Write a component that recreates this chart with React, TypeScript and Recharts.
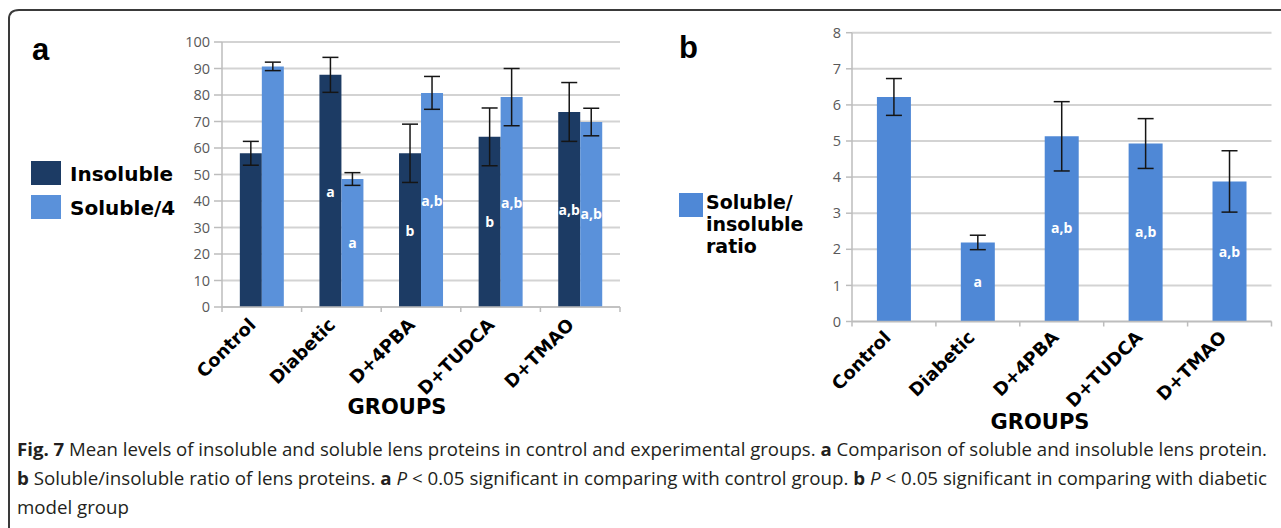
import { Bar, BarChart, CartesianGrid, ErrorBar, LabelList, XAxis, YAxis } from 'recharts';

const groups = ['Control', 'Diabetic', 'D+4PBA', 'D+TUDCA', 'D+TMAO'];

// panel a
const insoluble = [58, 87.6, 58, 64.2, 73.6];
const insolubleErr = [4.5, 6.6, 11, 10.9, 11.1];
const insolubleSig = ['', 'a', 'b', 'b', 'a,b'];
const insolubleSigAt = [0, 43, 28.3, 31.7, 36.2];
const soluble4 = [90.8, 48.3, 80.8, 79.2, 69.8];
const soluble4Err = [1.6, 2.4, 6.2, 10.8, 5.2];
const solubleSig = ['', 'a', 'a,b', 'a,b', 'a,b'];
const solubleSigAt = [0, 23.6, 39.6, 38.7, 34.6];
const ticksA = [0, 10, 20, 30, 40, 50, 60, 70, 80, 90, 100];

// panel b
const ratio = [6.22, 2.19, 5.13, 4.93, 3.88];
const ratioErr = [0.51, 0.2, 0.96, 0.69, 0.85];
const ratioSig = ['', 'a', 'a,b', 'a,b', 'a,b'];
const ratioSigAt = [0, 1.06, 2.55, 2.45, 1.9];
const ticksB = [0, 1, 2, 3, 4, 5, 6, 7, 8];

const DARK = '#1c3b64';
const LIGHT = '#5a91da';
const RATIO = '#4f88d6';
const GRID = '#d3d3d3';
const AXIS = '#bdbdbd';
const HEAVY = '"DejaVu Sans", Arial, sans-serif';
const ARIAL = '"Liberation Sans", Arial, sans-serif';
const OPEN = '"Open Sans", sans-serif';

const dataA = groups.map((g, i) => ({
  name: g,
  insoluble: insoluble[i],
  insolubleErr: insolubleErr[i],
  insolubleSig: insolubleSig[i],
  insolubleSigAt: insolubleSigAt[i],
  soluble: soluble4[i],
  solubleErr: soluble4Err[i],
  solubleSig: solubleSig[i],
  solubleSigAt: solubleSigAt[i],
}));

const dataB = groups.map((g, i) => ({
  name: g,
  ratio: ratio[i],
  ratioErr: ratioErr[i],
  ratioSig: ratioSig[i],
  ratioSigAt: ratioSigAt[i],
}));

// category tick: label rotated -45, small marks at band boundaries (excel style)
function makeTick(band: number, dx: number, dy: number) {
  return function GroupTick(props: any) {
    const { x, y, payload, index } = props;
    const left = x - band / 2;
    const ax = x + dx;
    const ay = y + dy;
    return (
      <g>
        <line x1={left} y1={y} x2={left} y2={y + 5} stroke={AXIS} strokeWidth={1.5} />
        {index === groups.length - 1 && (
          <line x1={x + band / 2} y1={y} x2={x + band / 2} y2={y + 5} stroke={AXIS} strokeWidth={1.5} />
        )}
        <text
          x={ax}
          y={ay}
          transform={`rotate(-45, ${ax}, ${ay})`}
          textAnchor="end"
          fontFamily={HEAVY}
          fontWeight="bold"
          fontSize={18}
          fill="#000"
        >
          {payload.value}
        </text>
      </g>
    );
  };
}

// white significance letters inside bars, placed at a value on the bar
function sigLabel(valueKey: string, atKey: string, data: any[]) {
  return function SigLabel(props: any) {
    const { x, y, width, height, index, value } = props;
    if (!value) return null;
    const row = data[index];
    const py = y + height - (height * row[atKey]) / row[valueKey];
    return (
      <text
        x={x + width / 2}
        y={py}
        textAnchor="middle"
        dominantBaseline="middle"
        fill="#fff"
        fontFamily={OPEN}
        fontWeight="bold"
        fontSize={14}
      >
        {value}
      </text>
    );
  };
}

const yTick = { fontSize: 14.5, fill: '#595959', fontFamily: OPEN };

export default function App() {
  return (
    <div style={{ position: 'absolute', left: 0, top: 0, width: 1281, height: 528, background: '#fff', overflow: 'hidden' }}>
      <svg width={1281} height={528} style={{ position: 'absolute', left: 0, top: 0 }}>
        <path d="M 9 528 L 9 19 Q 9 10 19 10 L 1281 10" fill="none" stroke="#3a3a3a" strokeWidth={2} />

        <text x={32} y={60} fontFamily={ARIAL} fontWeight="bold" fontSize={31}>a</text>
        <text x={679} y={58} fontFamily={ARIAL} fontWeight="bold" fontSize={31}>b</text>

        {/* legend a */}
        <rect x={31} y={161} width={30} height={24} fill={DARK} />
        <text x={70} y={181} fontFamily={HEAVY} fontWeight="bold" fontSize={20}>Insoluble</text>
        <rect x={31} y={195} width={30} height={24} fill={LIGHT} />
        <text x={70} y={215} fontFamily={HEAVY} fontWeight="bold" fontSize={20}>Soluble/4</text>

        {/* legend b */}
        <rect x={679} y={193} width={24} height={24} fill={RATIO} />
        <g fontFamily={HEAVY} fontWeight="bold" fontSize={19}>
          <text x={706} y={209}>Soluble/</text>
          <text x={706} y={231}>insoluble</text>
          <text x={706} y={253}>ratio</text>
        </g>

        <text x={397} y={414} textAnchor="middle" fontFamily={HEAVY} fontWeight="bold" fontSize={21}>GROUPS</text>
        <text x={1040} y={429} textAnchor="middle" fontFamily={HEAVY} fontWeight="bold" fontSize={21}>GROUPS</text>

        {/* caption */}
        <g fontFamily={OPEN} fontSize={18.5} fill="#231f20">
          <text x={17} y={456} textLength={1250} lengthAdjust="spacingAndGlyphs">
            <tspan fontWeight="bold">Fig. 7</tspan> Mean levels of insoluble and soluble lens proteins in control and experimental groups.{' '}
            <tspan fontWeight="bold">a</tspan> Comparison of soluble and insoluble lens protein.
          </text>
          <text x={17} y={485} textLength={1250} lengthAdjust="spacingAndGlyphs">
            <tspan fontWeight="bold">b</tspan> Soluble/insoluble ratio of lens proteins. <tspan fontWeight="bold">a</tspan>{' '}
            <tspan fontStyle="italic">P</tspan> &lt; 0.05 significant in comparing with control group.{' '}
            <tspan fontWeight="bold">b</tspan> <tspan fontStyle="italic">P</tspan> &lt; 0.05 significant in comparing with diabetic
          </text>
          <text x={17} y={514} textLength={112} lengthAdjust="spacingAndGlyphs">model group</text>
        </g>
      </svg>

      <div style={{ position: 'absolute', left: 0, top: 0 }}>
        <BarChart width={640} height={400} data={dataA} margin={{ top: 42, right: 20, left: 182, bottom: 0 }} barCategoryGap="22.4%" barGap={0}>
          <CartesianGrid vertical={false} stroke={GRID} strokeWidth={2} />
          <XAxis
            dataKey="name"
            height={93}
            interval={0}
            axisLine={{ stroke: AXIS, strokeWidth: 1.5 }}
            tickLine={false}
            tickSize={0}
            tickMargin={0}
            tick={makeTick(398 / 5, -5, 19)}
          />
          <YAxis
            width={40}
            domain={[0, 100]}
            ticks={ticksA}
            interval={0}
            axisLine={{ stroke: AXIS, strokeWidth: 1.5 }}
            tickLine={{ stroke: AXIS, strokeWidth: 1.5 }}
            tickSize={8}
            tickMargin={4}
            tick={yTick}
          />
          <Bar dataKey="insoluble" fill={DARK} isAnimationActive={false}>
            <ErrorBar dataKey="insolubleErr" width={8} stroke="#151515" strokeWidth={1.5} direction="y" />
            <LabelList dataKey="insolubleSig" content={sigLabel('insoluble', 'insolubleSigAt', dataA)} />
          </Bar>
          <Bar dataKey="soluble" fill={LIGHT} isAnimationActive={false}>
            <ErrorBar dataKey="solubleErr" width={8} stroke="#151515" strokeWidth={1.5} direction="y" />
            <LabelList dataKey="solubleSig" content={sigLabel('soluble', 'solubleSigAt', dataA)} />
          </Bar>
        </BarChart>
      </div>

      <div style={{ position: 'absolute', left: 640, top: 0 }}>
        <BarChart width={641} height={410} data={dataB} margin={{ top: 32.7, right: 9.5, left: 182, bottom: 0 }} barCategoryGap="29.7%">
          <CartesianGrid vertical={false} stroke={GRID} strokeWidth={2} />
          <XAxis
            dataKey="name"
            height={88.5}
            interval={0}
            axisLine={{ stroke: AXIS, strokeWidth: 1.5 }}
            tickLine={false}
            tickSize={0}
            tickMargin={0}
            tick={makeTick(419.5 / 5, -2, 17)}
          />
          <YAxis
            width={30}
            domain={[0, 8]}
            ticks={ticksB}
            interval={0}
            axisLine={{ stroke: AXIS, strokeWidth: 1.5 }}
            tickLine={{ stroke: AXIS, strokeWidth: 1.5 }}
            tickSize={6}
            tickMargin={5}
            tick={yTick}
          />
          <Bar dataKey="ratio" fill={RATIO} isAnimationActive={false}>
            <ErrorBar dataKey="ratioErr" width={8} stroke="#151515" strokeWidth={1.5} direction="y" />
            <LabelList dataKey="ratioSig" content={sigLabel('ratio', 'ratioSigAt', dataB)} />
          </Bar>
        </BarChart>
      </div>
    </div>
  );
}
